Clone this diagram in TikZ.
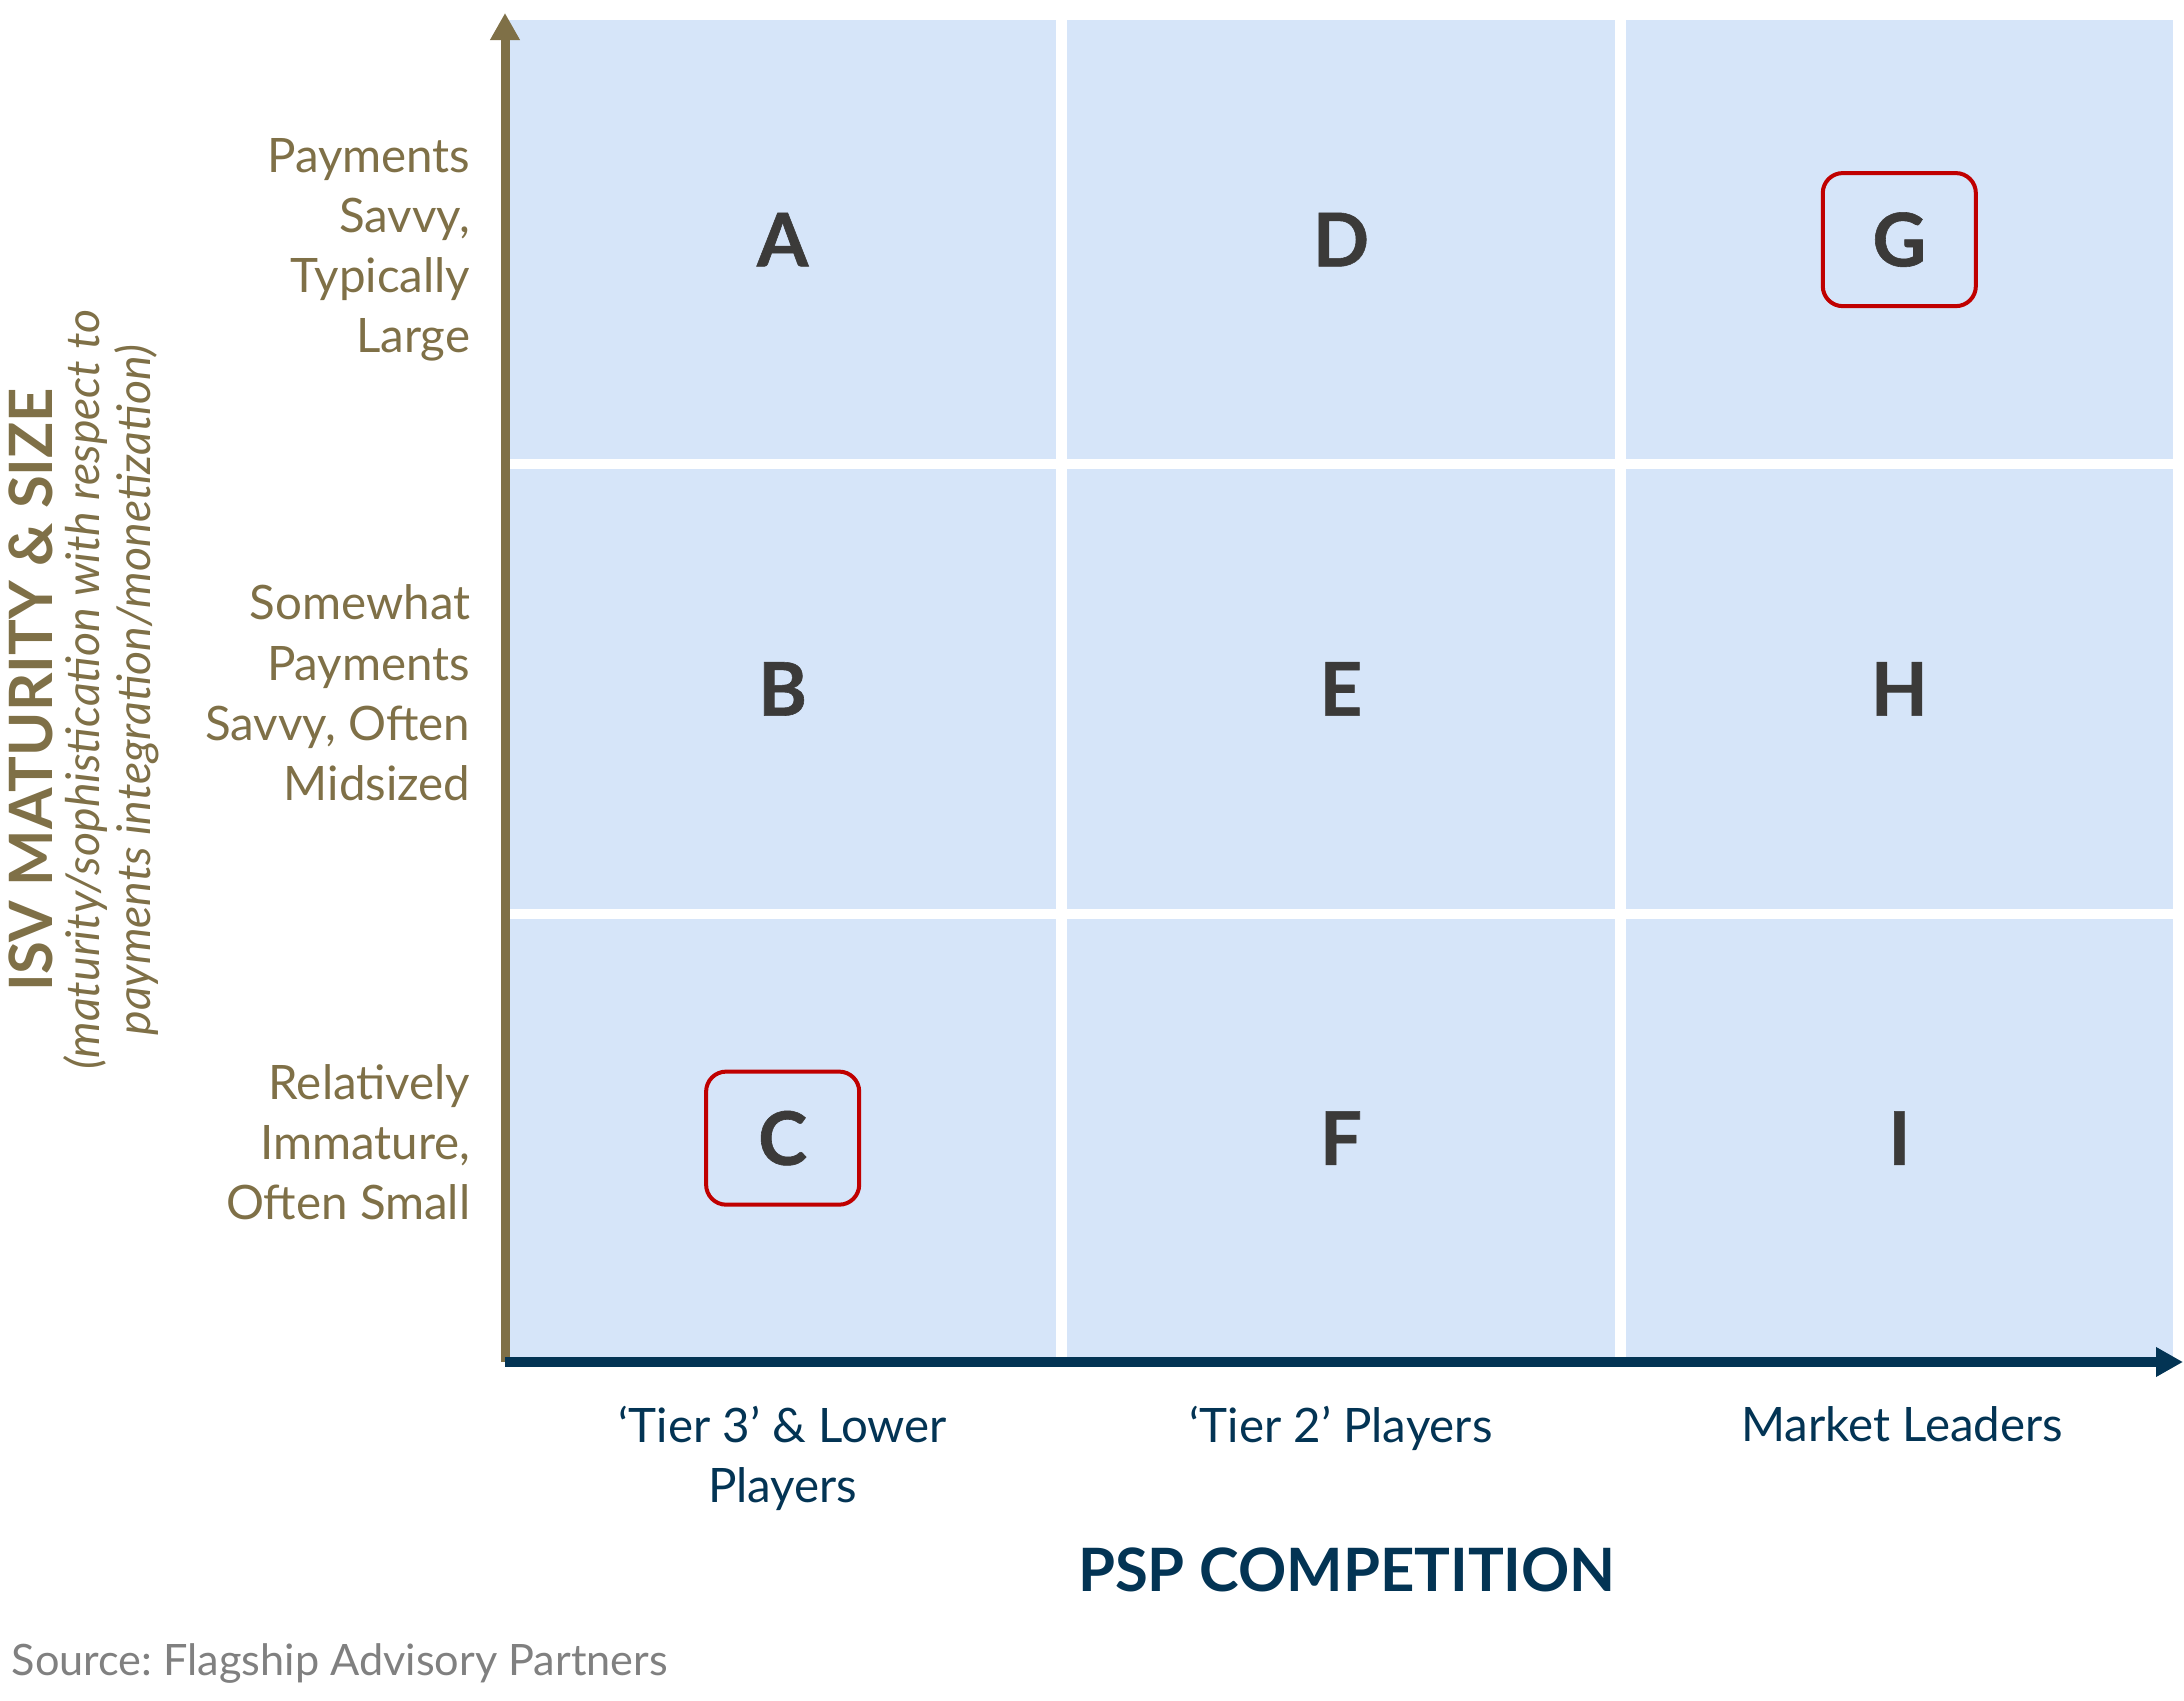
\documentclass[tikz,border=0pt]{standalone}
\usepackage{fontspec}
\setmainfont{Lato}
\newfontfamily\heavyfont{Lato}[BoldFeatures={FakeBold=0.8}]
\usepackage{tikz}
\usetikzlibrary{matrix,positioning,arrows.meta}
\definecolor{cellblue}{RGB}{214,229,249}
\definecolor{isvgold}{RGB}{127,112,71}
\definecolor{pspnavy}{RGB}{3,52,84}
\definecolor{lettergray}{RGB}{59,58,57}
\definecolor{pickred}{RGB}{192,0,0}
\definecolor{srcgray}{RGB}{128,128,128}

\begin{document}
\frenchspacing
\begin{tikzpicture}[x=0.01cm,y=-0.01cm,
	rowlbl/.style={inner sep=0pt,align=right,text=isvgold,font=\fontsize{13.5}{17.1}\selectfont},
	collbl/.style={inner sep=0pt,align=center,text=pspnavy,font=\fontsize{13.5}{17.1}\selectfont},
	pick/.style={draw=pickred,line width=0.04cm,rounded corners=0.2cm,minimum width=1.53cm,minimum height=1.33cm},
	]
	\useasboundingbox (0,0) rectangle (2184,1701);
	\matrix [matrix of nodes,anchor=north west,inner sep=0pt,outer sep=0pt,
	column sep=0.11cm,row sep=0.1cm,
	nodes={rectangle,fill=cellblue,minimum width=5.47cm,minimum height=4.39cm,inner sep=0pt,
	text=lettergray,font=\fontsize{21}{25}\selectfont\heavyfont\bfseries},
	] (grid) at (509,20)
	{
	A & D & G\\
	B & E & H\\
	C & F & I\\
	};
	\node[pick] (pickG) at (grid-1-3) {};
	\node[pick] (pickC) at (grid-3-1) {};
	% axes
	\coordinate (origin) at (505,1362);
	\coordinate (ytip) at (505,13);
	\coordinate (xtip) at (2183,1362);
	\draw[line width=0.09cm,isvgold,-{Triangle[length=0.27cm,width=0.28cm]}] (origin) -- (ytip);
	\draw[line width=0.09cm,pspnavy,-{Triangle[length=0.27cm,width=0.28cm]}] (origin) -- (xtip);
	% row labels
	\node[rowlbl,left=0.38cm of grid-1-1,yshift=-0.1cm] (rowhi) {Payments\\Savvy,\\Typically\\Large};
	\node[rowlbl,left=0.38cm of grid-2-1,yshift=-0.04cm] (rowmid) {Somewhat\\Payments\\Savvy, Often\\Midsized};
	\node[rowlbl,left=0.38cm of grid-3-1,yshift=-0.04cm] (rowlo) {Relatively\\Immature,\\Often Small};
	% column labels
	\node[collbl,below=0.48cm of grid-3-1] (coltierthree) {‘Tier 3’ \& Lower\\Players};
	\node[collbl,below=0.48cm of grid-3-2] (coltiertwo) {‘Tier 2’ Players};
	\node[collbl,below=0.48cm of grid-3-3,xshift=0.03cm] (colleaders) {Market Leaders};
	% axis titles
	\node[text=pspnavy,font=\fontsize{17}{20}\selectfont\bfseries] (xtitle) at (1347,1570) {PSP COMPETITION};
	\node[rotate=90,text=isvgold,font=\fontsize{17}{20}\selectfont\bfseries] (ytitle) at (31,690) {ISV MATURITY \& SIZE};
	\node[rotate=90,align=center,text=isvgold,font=\fontsize{13.2}{14.5}\selectfont\itshape] (ysub) at (111,690)
	{(maturity/sophistication with respect to\\payments integration/monetization)};
	\node[anchor=west,inner sep=0pt,text=srcgray,font=\fontsize{12.3}{14}\selectfont] (source) at (11,1664)
	{Source: Flagship Advisory Partners};
\end{tikzpicture}
\end{document}
